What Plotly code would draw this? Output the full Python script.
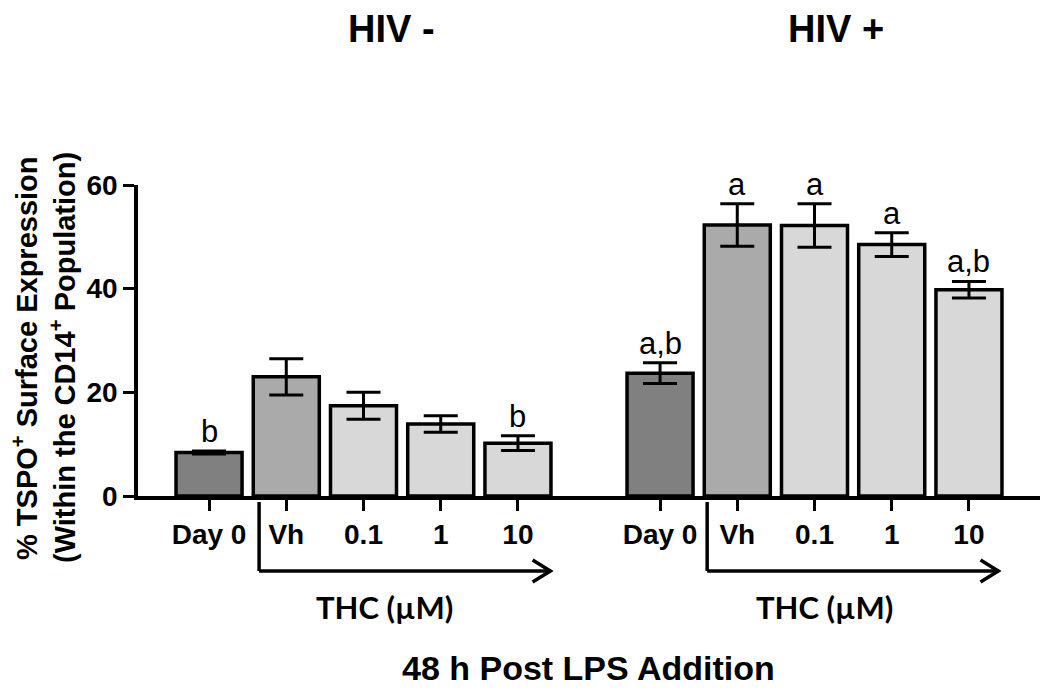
import plotly.graph_objects as go

# ---- data ----
positions = [0, 1, 2, 3, 4, 5.84, 6.84, 7.84, 8.84, 9.84]
tick_labels = ["Day 0", "Vh", "0.1", "1", "10", "Day 0", "Vh", "0.1", "1", "10"]
means = [8.4, 23.0, 17.4, 13.9, 10.2, 23.7, 52.3, 52.2, 48.5, 39.8]
sems = [0.3, 3.5, 2.6, 1.6, 1.4, 2.0, 4.1, 4.2, 2.3, 1.6]
sig_letters = ["b", "", "", "", "b", "a,b", "a", "a", "a", "a,b"]
bar_colors = ["#808080", "#aaaaaa", "#d8d8d8", "#d8d8d8", "#d8d8d8",
              "#808080", "#aaaaaa", "#d8d8d8", "#d8d8d8", "#d8d8d8"]
y_ticks = [0, 20, 40, 60]
group_titles = ["HIV -", "HIV +"]
thc_label = "THC (\u00b5M)"
x_title = "48 h Post LPS Addition"
y_title_1 = "% TSPO<sup>+</sup> Surface Expression"
y_title_2 = "(Within the CD14<sup>+</sup> Population)"

ARIAL = "Liberation Sans"
CALIBRI = "Lato"

# layout geometry (pixels)
W, H = 1050, 693
L, R, T, B = 138, 10, 185, 197
PW = W - L - R
PH = H - T - B


def px_x(px):
    return (px - L) / PW


def px_y(py):
    return (H - B - py) / PH


fig = go.Figure()
fig.add_trace(go.Bar(
    x=positions, y=means, width=0.855,
    marker=dict(color=bar_colors, line=dict(color="black", width=3.5)),
    error_y=dict(type="data", array=sems, visible=True, color="black",
                 thickness=3, width=17),
    showlegend=False, hoverinfo="skip",
))

annotations = []
for xp, m, s, lab in zip(positions, means, sems, sig_letters):
    if lab:
        annotations.append(dict(x=xp, y=m + s, xref="x", yref="y", text=lab,
                                showarrow=False, yanchor="bottom", yshift=0,
                                font=dict(family=ARIAL, size=31, color="black")))

# group titles
for title, cx in zip(group_titles, [391, 836]):
    annotations.append(dict(x=px_x(cx), y=px_y(29), xref="paper", yref="paper",
                            text="<b>%s</b>" % title, showarrow=False,
                            xanchor="center", yanchor="middle",
                            font=dict(family=ARIAL, size=38, color="black")))
# THC labels
for cx in [384, 824]:
    annotations.append(dict(x=px_x(cx), y=px_y(607), xref="paper", yref="paper",
                            text="<b>%s</b>" % thc_label, showarrow=False,
                            xanchor="center", yanchor="middle",
                            font=dict(family=CALIBRI, size=31, color="black")))
# x title
annotations.append(dict(x=px_x(588), y=px_y(668), xref="paper", yref="paper",
                        text="<b>%s</b>" % x_title, showarrow=False,
                        xanchor="center", yanchor="middle",
                        font=dict(family=ARIAL, size=34, color="black")))
# y title (two lines)
for txt, cx in [(y_title_1, 25), (y_title_2, 63)]:
    annotations.append(dict(x=px_x(cx), y=px_y(358), xref="paper", yref="paper",
                            text="<b>%s</b>" % txt, showarrow=False, textangle=-90,
                            xanchor="center", yanchor="middle",
                            font=dict(family=ARIAL, size=29, color="black")))

shapes = []
for x0, x1 in [(0.648, 4.42), (6.45, 10.22)]:
    y_top, y_bot = px_y(502), px_y(571)
    shapes.append(dict(type="line", xref="x", yref="paper", x0=x0, x1=x0,
                       y0=y_top, y1=y_bot, line=dict(color="black", width=3.5)))
    shapes.append(dict(type="line", xref="x", yref="paper", x0=x0, x1=x1,
                       y0=y_bot, y1=y_bot, line=dict(color="black", width=3.5)))
    head = 0.23
    shapes.append(dict(type="path", xref="x", yref="paper",
                       path="M %f,%f L %f,%f L %f,%f" % (x1 - head, px_y(560), x1, y_bot,
                                                          x1 - head, px_y(582)),
                       line=dict(color="black", width=3.5)))

fig.update_layout(
    width=W, height=H,
    margin=dict(l=L, r=R, t=T, b=B, pad=0),
    plot_bgcolor="white", paper_bgcolor="white",
    annotations=annotations, shapes=shapes,
    xaxis=dict(range=[-0.92, 10.76], tickmode="array", tickvals=positions,
               ticktext=["<b>%s</b>" % t for t in tick_labels],
               showline=True, linecolor="black", linewidth=3.5,
               ticks="outside", ticklen=11, tickwidth=3, tickcolor="black",
               showgrid=False, zeroline=False,
               tickfont=dict(family=ARIAL, size=28, color="black")),
    yaxis=dict(range=[0, 60], tickmode="array", tickvals=y_ticks,
               ticktext=["<b>%d</b>" % t for t in y_ticks],
               showline=True, linecolor="black", linewidth=3.5,
               ticks="outside", ticklen=11, tickwidth=3, tickcolor="black",
               showgrid=False, zeroline=False,
               tickfont=dict(family=ARIAL, size=28, color="black")),
)

fig.write_html("out.html", config={"displayModeBar": False},
               post_script="document.body.style.margin='0';document.body.style.overflow='hidden';")
